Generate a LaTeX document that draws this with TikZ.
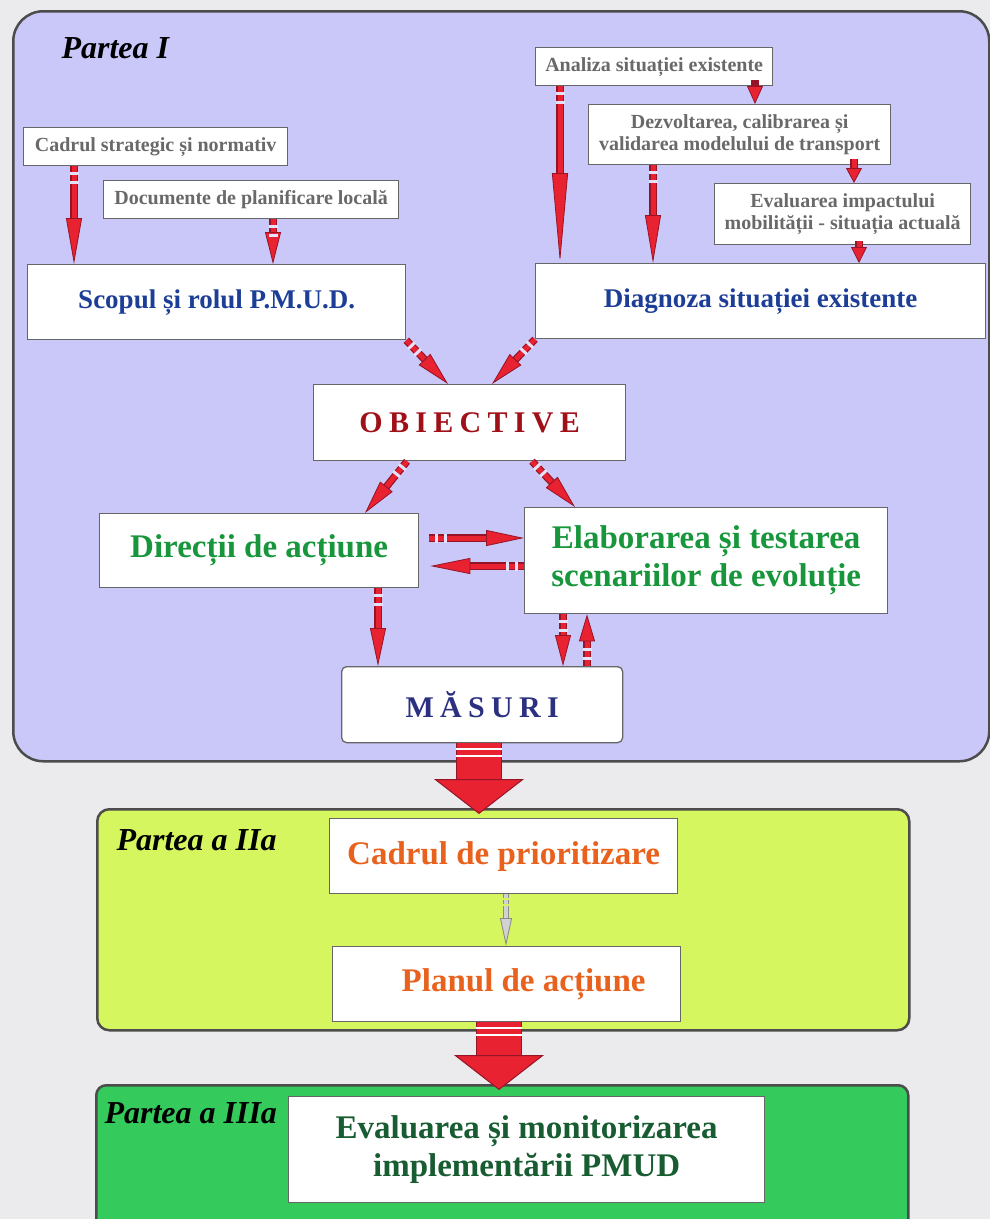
\documentclass[tikz,border=0pt]{standalone}
\usepackage{fontspec}
\setmainfont{Liberation Serif}
\usetikzlibrary{arrows.meta, decorations.markings}

\definecolor{fondo}{RGB}{235,235,237}
\definecolor{lila}{RGB}{202,200,248}
\definecolor{lima}{RGB}{214,246,96}
\definecolor{verde}{RGB}{52,202,92}
\definecolor{rojo}{RGB}{232,34,48}
\definecolor{rojoosc}{RGB}{150,20,40}
\definecolor{hueco}{RGB}{228,226,250}
\definecolor{gristxt}{RGB}{105,105,105}
\definecolor{azul}{RGB}{28,62,150}
\definecolor{granate}{RGB}{160,16,24}
\definecolor{verdetxt}{RGB}{24,150,60}
\definecolor{marino}{RGB}{44,48,128}
\definecolor{naranja}{RGB}{232,98,30}
\definecolor{verdeosc}{RGB}{24,92,50}

\begin{document}
\begin{tikzpicture}[x=1pt, y=-1pt,
  panel/.style={draw=black!70, line width=2.5pt, anchor=north west, inner sep=0pt},
  caja/.style={draw=black!60, line width=1.3pt, fill=white, anchor=north west, inner sep=0pt, align=center},
  mica/.style={caja, text=gristxt, font=\bfseries\fontsize{20}{22}\selectfont},
  mare/.style={caja, font=\bfseries\fontsize{27}{32}\selectfont},
  grande/.style={caja, font=\bfseries\fontsize{33}{38}\selectfont},
  spatiat/.style={caja, font=\bfseries\fontsize{30}{34}\selectfont\addfontfeatures{LetterSpace=21}},
  parte/.style={anchor=base west, font=\bfseries\itshape\fontsize{32}{36}\selectfont},
  flow/.style={draw=rojo, line width=5pt,
    -{Triangle[length=#1, width=16pt, line width=0.8pt, color=rojoosc, fill=rojo]},
    preaction={draw=rojoosc, line width=7.5pt, shorten >=#1*0.6, -}},
  flow/.default=30pt,
  cola/.style={postaction={decorate, decoration={markings,
    mark=at position 6pt with {\fill[hueco] (0pt,-4.5pt) rectangle (3pt,4.5pt);},
    mark=at position 15pt with {\fill[hueco] (0pt,-4.5pt) rectangle (3pt,4.5pt);}}}},
  flowgris/.style={draw=gray!35, line width=4pt,
    -{Triangle[length=28pt, width=12pt, line width=0.9pt, color=gray!90, fill=gray!35]},
    preaction={draw=gray!90, line width=6pt, shorten >=17pt, -},
    postaction={decorate, decoration={markings,
      mark=at position 4pt with {\fill[lima] (0pt,-4pt) rectangle (2pt,4pt);},
      mark=at position 10pt with {\fill[lima] (0pt,-4pt) rectangle (2pt,4pt);}}}},
  gros/.style={draw=rojo, line width=44pt,
    -{Triangle[length=35pt, width=90pt, line width=1pt, color=rojoosc, fill=rojo]},
    preaction={draw=rojoosc, line width=46pt, shorten >=28pt, -},
    postaction={decorate, decoration={markings,
      mark=at position 5pt with {\fill[white] (0pt,-23pt) rectangle (1.5pt,23pt);},
      mark=at position 12pt with {\fill[white] (0pt,-23pt) rectangle (1.5pt,23pt);}}}}]

  \useasboundingbox[fill=fondo] (0,0) rectangle (990,1219);

  % Paneles
  \node[panel, fill=lila, rounded corners=30, minimum width=976, minimum height=750] (p1) at (12,10) {};
  \node[panel, fill=lima, rounded corners=12, minimum width=812, minimum height=221] (p2) at (96,808) {};
  \node[panel, fill=verde, rounded corners=10, minimum width=812, minimum height=170] (p3) at (95,1084) {};
  \node[parte] (t1) at (58,58) {Partea I};
  \node[parte] (t2) at (113,850) {Partea a IIa};
  \node[parte] (t3) at (101,1123) {Partea a IIIa};

  % Partea I
  \node[mica, minimum width=264, minimum height=38] (cadru) at (23,127) {Cadrul strategic și normativ};
  \node[mica, minimum width=295, minimum height=38] (doc) at (103,180) {Documente de planificare locală};
  \node[mare, text=azul, minimum width=378, minimum height=75] (scop) at (27,264) {Scopul și rolul P.M.U.D.};
  \node[mica, minimum width=237, minimum height=38] (analiza) at (535,47) {Analiza situației existente};
  \node[mica, minimum width=302, minimum height=60] (model) at (588,104) {Dezvoltarea, calibrarea și\\validarea modelului de transport};
  \node[mica, minimum width=256, minimum height=61] (impact) at (714,183) {Evaluarea impactului\\mobilității - situația actuală};
  \node[mare, text=azul, minimum width=450, minimum height=75] (diag) at (535,263) {Diagnoza situației existente};
  \node[spatiat, text=granate, minimum width=312, minimum height=76] (obiect) at (313,384) {OBIECTIVE};
  \node[grande, text=verdetxt, minimum width=319, minimum height=74] (directii) at (99,513) {Direcții de acțiune};
  \node[grande, text=verdetxt, minimum width=363, minimum height=106] (scenarii) at (524,507) {Elaborarea și testarea\\scenariilor de evoluție};
  \node[spatiat, text=marino, rounded corners=5, minimum width=281, minimum height=76] (masuri) at (341,666) {MĂSURI};

  % Partea a IIa si a IIIa
  \node[grande, text=naranja, minimum width=348, minimum height=75] (prior) at (329,818) {Cadrul de prioritizare};
  \node[grande, text=naranja, minimum width=348, minimum height=75] (plan) at (332,946) {\hspace*{34pt}Planul de acțiune};
  \node[grande, text=verdeosc, minimum width=476, minimum height=106] (monit) at (288,1096) {Evaluarea și monitorizarea\\implementării PMUD};

  % Sagetile
  \draw[flow=46pt, cola] (cadru.south -| 74,0) -- (scop.north -| 74,0);
  \draw[flow=32pt, cola] (doc.south -| 273,0) -- (scop.north -| 273,0);
  \draw[flow=90pt, cola] (analiza.south -| 560,0) -- (diag.north -| 560,0);
  \draw[flow=18pt, shorten <=-6pt] (analiza.south -| 755,0) -- (model.north -| 755,0);
  \draw[flow=48pt, cola] (model.south -| 653,0) -- (diag.north -| 653,0);
  \draw[flow=15pt, shorten <=-6pt] (model.south -| 854,0) -- (impact.north -| 854,0);
  \draw[flow=16pt, shorten <=-4pt] (impact.south -| 859,0) -- (diag.north -| 859,0);
  \draw[flow=34pt, cola] (scop.south east) -- (obiect.north -| 448,0);
  \draw[flow=34pt, cola] (diag.south west) -- (obiect.north -| 492,0);
  \draw[flow=34pt, cola] (obiect.south -| 407,0) -- (directii.north -| 365,0);
  \draw[flow=34pt, cola] (obiect.south -| 532,0) -- (scenarii.north -| 575,0);
  \draw[flow=38pt, cola] ([xshift=10pt]directii.east |- 0,538) -- (scenarii.west |- 0,538);
  \draw[flow=40pt, cola] (scenarii.west |- 0,566) -- ([xshift=11pt]directii.east |- 0,566);
  \draw[flow=38pt, cola] (directii.south -| 378,0) -- (masuri.north -| 378,0);
  \draw[flow=31pt, cola] (scenarii.south -| 563,0) -- (masuri.north -| 563,0);
  \draw[flow=27pt, cola] (masuri.north -| 587,0) -- (scenarii.south -| 587,0);

  \draw[gros, shorten >=-6pt] (masuri.south -| 479,0) -- (p2.north -| 479,0);
  \draw[flowgris] (prior.south -| 506,0) -- (plan.north -| 506,0);
  \draw[gros, shorten >=-6pt] (plan.south -| 499,0) -- (p3.north -| 499,0);
\end{tikzpicture}
\end{document}
